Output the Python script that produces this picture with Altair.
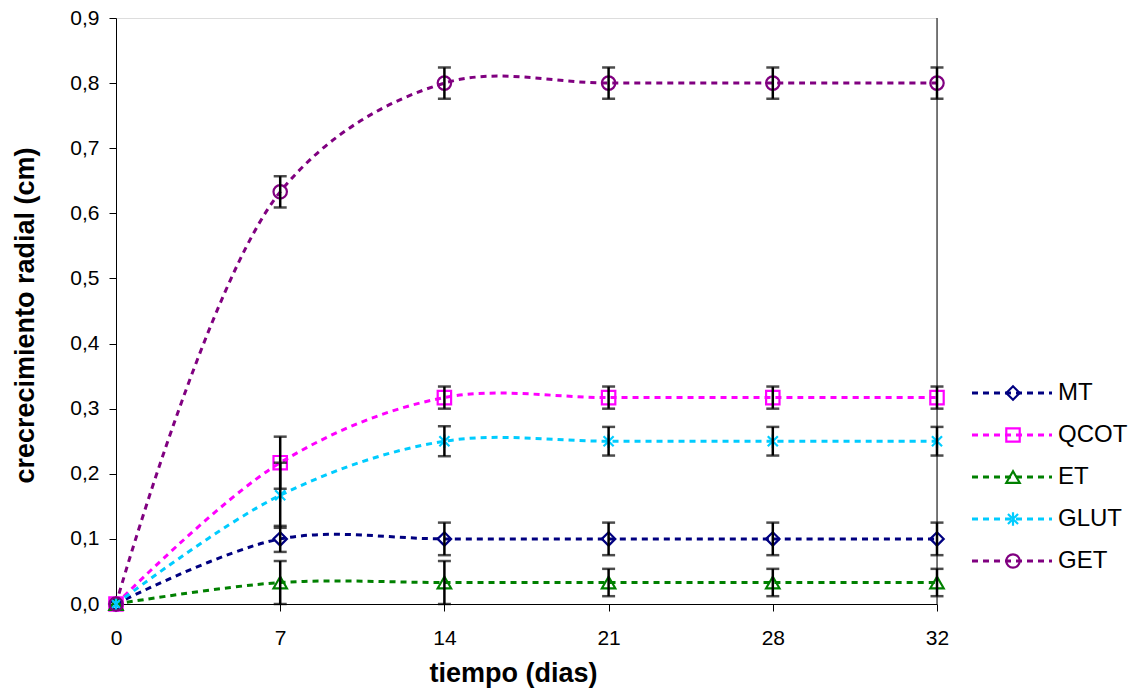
import altair as alt
import pandas as pd

# ---- data ----
days = ["0", "7", "14", "21", "28", "32"]
series = ["MT", "QCOT", "ET", "GLUT", "GET"]
colors = ["#000080", "#FF00FF", "#008000", "#00CCFF", "#800080"]

mt = [0.0, 0.1, 0.1, 0.1, 0.1, 0.1]
mt_err = [0.0, 0.02, 0.025, 0.025, 0.025, 0.025]
qcot = [0.0, 0.217, 0.317, 0.317, 0.317, 0.317]
qcot_err = [0.0, 0.04, 0.017, 0.017, 0.017, 0.017]
et = [0.0, 0.033, 0.033, 0.033, 0.033, 0.033]
et_err = [0.0, 0.033, 0.033, 0.021, 0.021, 0.021]
glut = [0.0, 0.167, 0.25, 0.25, 0.25, 0.25]
glut_err = [0.0, 0.05, 0.023, 0.022, 0.022, 0.022]
get = [0.0, 0.633, 0.8, 0.8, 0.8, 0.8]
get_err = [0.0, 0.024, 0.024, 0.024, 0.024, 0.024]

values = {"MT": mt, "QCOT": qcot, "ET": et, "GLUT": glut, "GET": get}
errors = {"MT": mt_err, "QCOT": qcot_err, "ET": et_err, "GLUT": glut_err, "GET": get_err}

rows = []
for s in series:
    for d, v, e in zip(days, values[s], errors[s]):
        rows.append({"day": d, "series": s, "value": v, "err": e,
                     "lo": v - e, "hi": v + e})
df = pd.DataFrame(rows)
df_err = df[df["err"] > 0]
legend_df = pd.DataFrame({"series": series})

asterisk = "M-0.75,-0.75L0.75,0.75M-0.75,0.75L0.75,-0.75M0,-1L0,1"
shapes = ["diamond", "square", "triangle-up", asterisk, "circle"]

W, H = 821, 586
FONT = "Liberation Sans"

x_enc = alt.X("day:N", sort=days,
              scale=alt.Scale(type="point", domain=days, padding=0),
              axis=alt.Axis(title="tiempo (dias)", labelAngle=0, labelFontSize=21,
                            labelFont=FONT, labelColor="black", tickSize=7,
                            labelPadding=16, tickColor="black", domainColor="black",
                            titleFont=FONT, titleFontSize=27, titleFontWeight="bold",
                            titleColor="black", titleX=397, titleY=77,
                            titleBaseline="alphabetic", titleAlign="center"))
y_scale = alt.Scale(domain=[0, 0.9], nice=False, zero=True)
y_axis = alt.Axis(title="crecrecimiento radial (cm)", values=[0, 0.1, 0.2, 0.3, 0.4, 0.5, 0.6, 0.7, 0.8, 0.9],
                  labelExpr="replace(format(datum.value, '.1f'), '.', ',')",
                  labelFontSize=21, labelFont=FONT, labelColor="black", tickSize=7,
                  labelPadding=10, tickColor="black", domainColor="black", grid=False,
                  titleFont=FONT, titleFontSize=27, titleFontWeight="bold",
                  titleColor="black", titleX=-83, titleY=297, titleAngle=-90,
                  titleBaseline="alphabetic", titleAlign="center")

color_enc = alt.Color("series:N", scale=alt.Scale(domain=series, range=colors), legend=None)
shape_enc = alt.Shape("series:N", scale=alt.Scale(domain=series, range=shapes), legend=None)

base = alt.Chart(df)

lines = base.mark_line(interpolate="catmull-rom", strokeDash=[6, 5], strokeWidth=3).encode(
    x=x_enc, y=alt.Y("value:Q", scale=y_scale, axis=y_axis), color=color_enc,
    detail="series:N")

points = base.mark_point(filled=False, strokeWidth=2.2, size=180, opacity=1).encode(
    x=x_enc, y=alt.Y("value:Q", scale=y_scale, axis=y_axis), color=color_enc, shape=shape_enc)

err_base = alt.Chart(df_err)
err_rule = err_base.mark_rule(color="black", strokeWidth=2.5).encode(
    x=x_enc, y=alt.Y("lo:Q", scale=y_scale, axis=y_axis), y2="hi:Q")
err_hi = err_base.mark_tick(color="black", size=13, thickness=2.5).encode(
    x=x_enc, y=alt.Y("hi:Q", scale=y_scale, axis=y_axis))
err_lo = err_base.mark_tick(color="black", size=13, thickness=2.5).encode(
    x=x_enc, y=alt.Y("lo:Q", scale=y_scale, axis=y_axis))

right_border = alt.Chart(pd.DataFrame({"a": [0]})).mark_rule(color="black", strokeWidth=1).encode(
    x=alt.value(W), y=alt.value(0), y2=alt.value(H))

# ---- manual legend (dashed line + marker + label) ----
leg_y = alt.Y("series:N", sort=series,
              scale=alt.Scale(type="point", domain=series, range=[375, 543], padding=0),
              axis=None)
leg_base = alt.Chart(legend_df)
leg_line = leg_base.mark_rule(strokeDash=[6, 5], strokeWidth=3).encode(
    x=alt.value(856), x2=alt.value(936), y=leg_y, color=color_enc)
leg_point = leg_base.mark_point(filled=False, strokeWidth=2.2, size=180, opacity=1).encode(
    x=alt.value(897), y=leg_y, color=color_enc, shape=shape_enc)
leg_text = leg_base.mark_text(align="left", baseline="middle", font=FONT, fontSize=24,
                              color="black").encode(
    x=alt.value(942), y=leg_y, text="series:N")

main = alt.layer(lines, points, err_rule, err_hi, err_lo, right_border)
legend = alt.layer(leg_line, leg_point, leg_text)

chart = alt.layer(main, legend).resolve_scale(y="independent").properties(
    width=W, height=H,
    autosize=alt.AutoSizeParams(type="none"),
    padding={"left": 108, "top": 10, "right": 195, "bottom": 84},
).configure_view(stroke="#808080", strokeWidth=1).configure(background="white")

chart.save("out.html", embed_options={"renderer": "svg", "actions": False})
